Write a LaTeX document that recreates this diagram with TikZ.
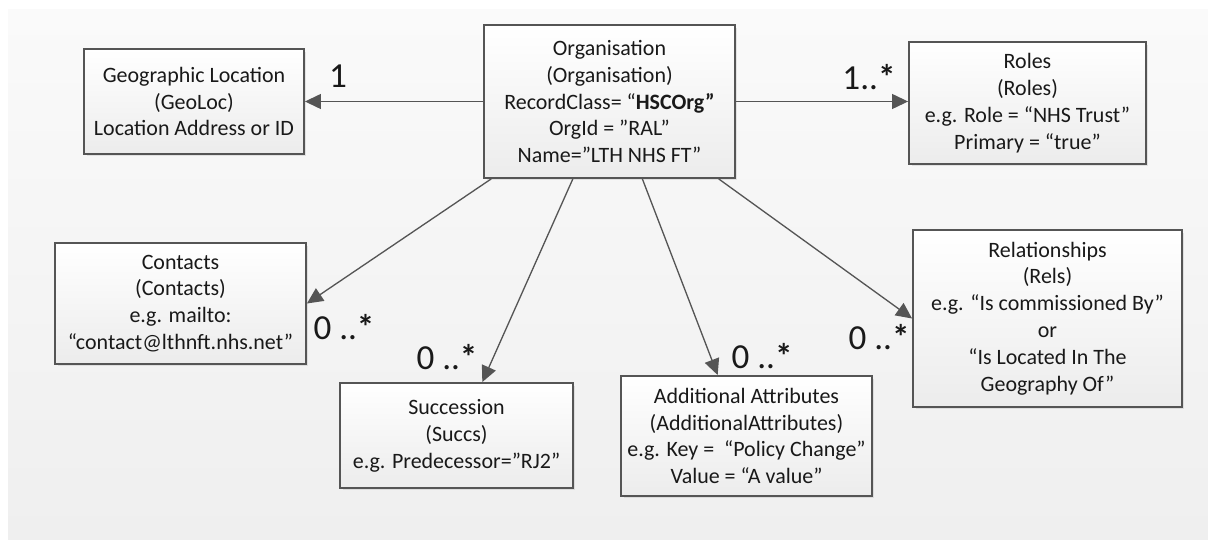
\documentclass[tikz,border=0pt]{standalone}
\usepackage{fontspec}
\setmainfont{Carlito}
\usetikzlibrary{arrows.meta,positioning,calc,shadows}
\tikzset{
    >=Stealth,
    every node/.style={text=black!90, font=\fontsize{12.5}{15.3}\selectfont}
}

\begin{document}
\begin{tikzpicture}[x=0.02cm, y=-0.02cm]
  % colours
  \definecolor{edgeGray}{RGB}{85,85,85}
  \definecolor{boxBottom}{RGB}{236,236,236}
  \definecolor{paperTop}{RGB}{250,250,250}
  \definecolor{paperBottom}{RGB}{239,239,239}

  % entity boxes and multiplicity labels
  \tikzset{
    entity/.style={
      rectangle,
      draw=edgeGray,
      line width=1.1pt,
      top color=white,
      bottom color=boxBottom,
      drop shadow={shadow xshift=0.05cm, shadow yshift=-0.05cm, opacity=0.18},
      align=center,
      inner sep=2pt
    },
    mult/.style={font=\fontsize{20}{20}\selectfont, inner sep=0pt},
    link/.style={draw=edgeGray, line width=0.75pt,
      -{Triangle[length=0.32cm, width=0.3cm]}}
  }

  % page and grey canvas
  \useasboundingbox (0,0) rectangle (1208,540);
  \fill[white] (0,0) rectangle (1208,540);
  \fill[top color=paperTop, bottom color=paperBottom] (8,10) rectangle (1208,540);

  % boxes, placed at their centres (1 unit = 1 px of the screenshot)
  \node[entity, minimum width=5.02cm, minimum height=3.06cm] (org) at (609.5,101.5)
    {Organisation\\(Organisation)\\RecordClass= “\textbf{HSCOrg”}\\OrgId = ”RAL”\\Name=”LTH NHS FT”};
  \node[entity, minimum width=4.4cm, minimum height=2.1cm] (geo) at (194,101.5)
    {Geographic Location\\(GeoLoc)\\Location Address or ID};
  \node[entity, minimum width=4.74cm, minimum height=2.44cm] (roles) at (1027.5,103)
    {Roles\\(Roles)\\e.g. Role = “NHS Trust”\\Primary = “true”};
  \node[entity, minimum width=5.02cm, minimum height=2.42cm] (contacts) at (180.5,303.5)
    {Contacts\\(Contacts)\\e.g. mailto:\\“contact@lthnft.nhs.net”};
  \node[entity, minimum width=4.66cm, minimum height=2.1cm] (succ) at (456.5,435.5)
    {Succession\\(Succs)\\e.g. Predecessor="RJ2"};
  \node[entity, minimum width=5.02cm, minimum height=2.4cm] (attr) at (746.5,436)
    {Additional Attributes\\(AdditionalAttributes)\\e.g. Key =~ “Policy Change”\\Value = “A value”};
  \node[entity, minimum width=5.38cm, minimum height=3.54cm] (rels) at (1047.5,318.5)
    {Relationships\\(Rels)\\e.g. “Is commissioned By”\\or\\“Is Located In The\\Geography Of”};

  % connectors
  \draw[link] (org.west) -- (org.west -| geo.east);
  \draw[link] (org.east) -- (org.east -| roles.west);
  \draw[link] ($(org.south west)!0.032!(org.south east)$) -- (contacts.east);
  \draw[link] ($(org.south west)!0.355!(org.south east)$) -- ($(succ.north west)!0.61!(succ.north east)$);
  \draw[link] ($(org.south west)!0.63!(org.south east)$) -- ($(attr.north west)!0.386!(attr.north east)$);
  \draw[link] ($(org.south west)!0.932!(org.south east)$) -- (rels.west);

  % multiplicities
  \node[mult] (mGeo) at (338,76) {1};
  \node[mult] (mRoles) at (869,77) {1..\textbf{*}};
  \node[mult] (mContacts) at (344,327) {0 ..\textbf{*}};
  \node[mult] (mSucc) at (447,357) {0 ..\textbf{*}};
  \node[mult] (mAttr) at (762,356) {0 ..\textbf{*}};
  \node[mult] (mRels) at (879,337) {0 ..\textbf{*}};
\end{tikzpicture}
\end{document}
